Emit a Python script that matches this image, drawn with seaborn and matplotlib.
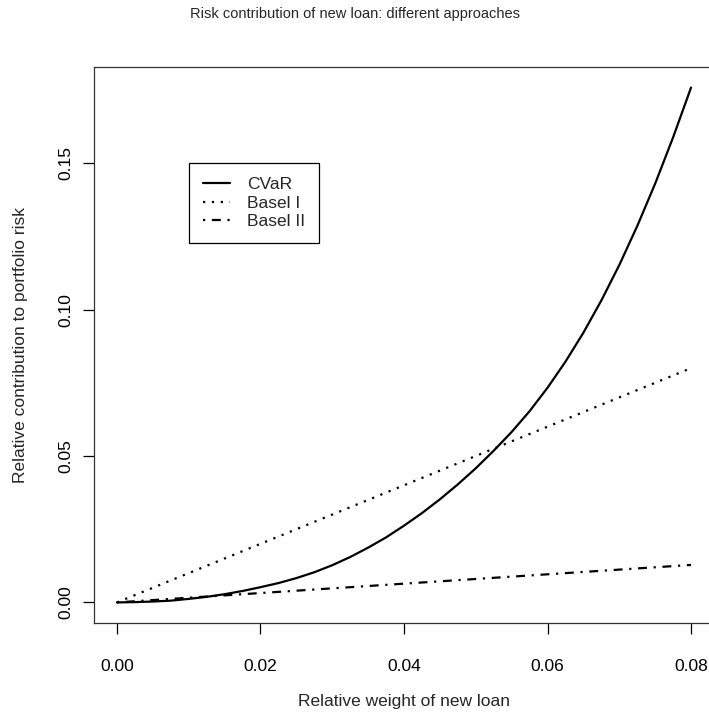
import numpy as np
import pandas as pd
import matplotlib
matplotlib.use("Agg")
import matplotlib.pyplot as plt
import seaborn as sns

# ---- data ----
weight = [0.0000, 0.0025, 0.0050, 0.0075, 0.0100, 0.0125, 0.0150, 0.0175,
          0.0200, 0.0225, 0.0250, 0.0275, 0.0300, 0.0325, 0.0350, 0.0375,
          0.0400, 0.0425, 0.0450, 0.0475, 0.0500, 0.0525, 0.0550, 0.0575,
          0.0600, 0.0625, 0.0650, 0.0675, 0.0700, 0.0725, 0.0750, 0.0775,
          0.0800]
cvar = [0.0000, 0.0001, 0.0003, 0.0006, 0.0012, 0.0019, 0.0028, 0.0039,
        0.0052, 0.0066, 0.0083, 0.0103, 0.0127, 0.0155, 0.0187, 0.0222,
        0.0262, 0.0305, 0.0352, 0.0403, 0.0458, 0.0518, 0.0582, 0.0653,
        0.0733, 0.0822, 0.0921, 0.1031, 0.1152, 0.1285, 0.1430, 0.1588,
        0.1758]
basel1_x = [0.000, 0.080]
basel1_y = [0.000, 0.080]
basel2_x = [0.000, 0.080]
basel2_y = [0.000, 0.0128]

series_names = ["CVaR", "Basel I", "Basel II"]
x_ticks = [0.00, 0.02, 0.04, 0.06, 0.08]
x_ticklabels = ["0.00", "0.02", "0.04", "0.06", "0.08"]
y_ticks = [0.00, 0.05, 0.10, 0.15]
y_ticklabels = ["0.00", "0.05", "0.10", "0.15"]

df = pd.concat([
    pd.DataFrame({"x": weight, "y": cvar, "s": series_names[0]}),
    pd.DataFrame({"x": basel1_x, "y": basel1_y, "s": series_names[1]}),
    pd.DataFrame({"x": basel2_x, "y": basel2_y, "s": series_names[2]}),
], ignore_index=True)

sns.set_style("white")
plt.rcParams["font.family"] = ["Liberation Sans", "DejaVu Sans"]

W, H = 709, 715
fig = plt.figure(figsize=(W / 100, H / 100), dpi=100)
left, right, top, bottom = 94, 714, 67, 623
ax = fig.add_axes([left / W, 1 - bottom / H, (right - left) / W, (bottom - top) / H])

styles = {"CVaR": "-", "Basel I": (0, (1, 3)), "Basel II": (0, (1, 3, 4, 3))}
for name in series_names:
    sns.lineplot(data=df[df["s"] == name], x="x", y="y", ax=ax, color="black",
                 linewidth=1.6, linestyle=styles[name], label=name,
                 estimator=None, sort=False)

# R-style 4% padding
xr = 0.08
ax.set_xlim(0 - 0.04 * xr, 0.08 + 0.04 * xr)
ymin, ymax = 0.0, 0.1758
yr = ymax - ymin
ax.set_ylim(ymin - 0.04 * yr, ymax + 0.04 * yr)

FS = 12.5
ax.set_xticks(x_ticks)
ax.set_xticklabels(x_ticklabels)
ax.set_yticks(y_ticks)
ax.set_yticklabels(y_ticklabels, rotation=90, va="center")
ax.tick_params(axis="both", which="major", bottom=True, left=True,
               direction="out", length=8, width=0.9, color="black",
               labelsize=FS, labelcolor="black")
ax.tick_params(axis="x", pad=18)
ax.tick_params(axis="y", pad=7)
for sp in ax.spines.values():
    sp.set_visible(True)
    sp.set_color("#333333")
    sp.set_linewidth(0.9)

ax.set_xlabel("Relative weight of new loan", fontsize=FS, labelpad=14)
ax.set_ylabel("Relative contribution to portfolio risk", fontsize=FS, labelpad=21.5)
fig.text(0.5, 1 - 14 / H, "Risk contribution of new loan: different approaches",
         ha="center", va="center", fontsize=10.5)

leg = ax.legend(loc="upper left",
                bbox_to_anchor=((189 - left) / (right - left), (bottom - 163) / (bottom - top)),
                borderaxespad=0, fancybox=False, edgecolor="black", framealpha=1,
                fontsize=FS, handlelength=1.55, handletextpad=1.0,
                labelspacing=0.2, borderpad=0.8)
leg.get_frame().set_linewidth(0.9)

fig.savefig("out.png", dpi=100)
